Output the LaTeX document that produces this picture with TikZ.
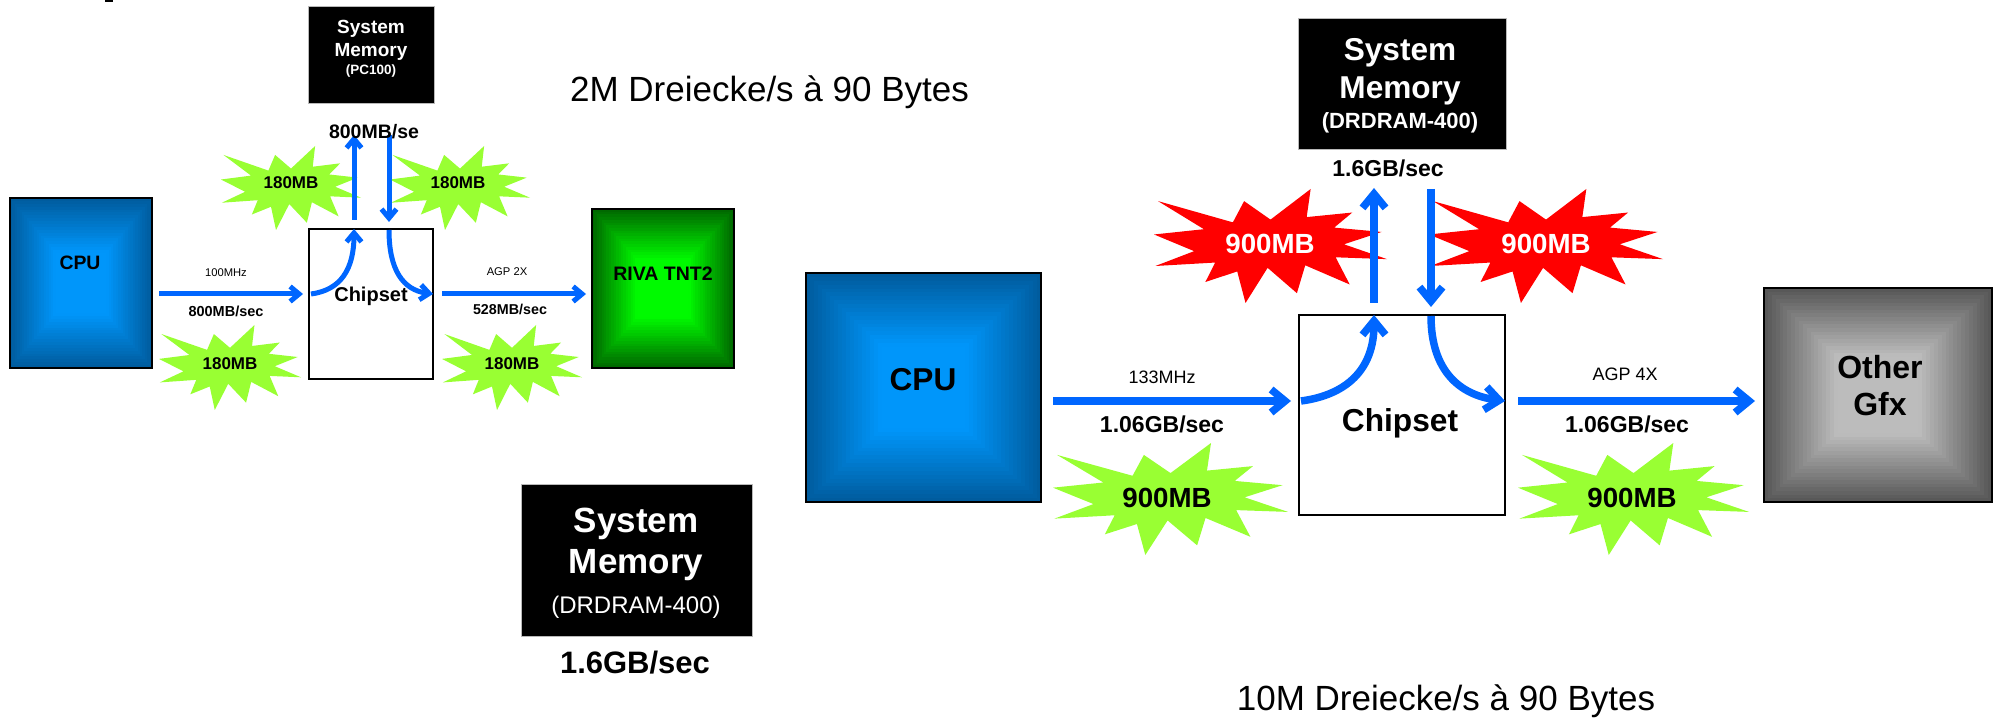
\documentclass[tikz,border=0pt]{standalone}
\usepackage{fontspec}
\setmainfont{Liberation Sans}
\usetikzlibrary{arrows.meta,calc}

\definecolor{arrowblue}{RGB}{0,102,255}
\definecolor{burstgreen}{RGB}{153,255,51}
\definecolor{burstred}{RGB}{255,0,0}
\definecolor{cpuedge}{RGB}{0,92,158}
\definecolor{cpucenter}{RGB}{0,150,250}
\definecolor{gpuedge}{RGB}{0,105,0}
\definecolor{gpucenter}{RGB}{0,250,0}
\definecolor{gfxedge}{RGB}{88,88,88}
\definecolor{gfxcenter}{RGB}{188,188,188}

\newcommand{\setfs}[1]{\fontsize{#1}{#1}\selectfont}

% PowerPoint "Explosion 1" (irregularSeal1), coordinates scaled to 0..216
\newcommand{\burstshape}[5]{%
  \begin{scope}[shift={(#1,#2)}, xscale={(#3-#1)/216}, yscale={(#4-#2)/216}]
    \fill[#5] (108,58) -- (145.22,0) -- (141.55,53.25) -- (183.80,44.57) -- (167.02,73.15)
      -- (210.97,81.37) -- (176.07,104.75) -- (216,132.90) -- (168.37,129.42) -- (181.45,180.95)
      -- (140.20,144.57) -- (132.47,197.37) -- (105.32,149.35) -- (84.85,216) -- (77.15,156.27)
      -- (47.62,176.17) -- (56.67,139.37) -- (1.35,145.87) -- (37.22,117.75) -- (0,86.15)
      -- (46.27,76.17) -- (3.70,22.95) -- (73.12,63.20) -- (83.52,22.95) -- cycle;
  \end{scope}}

\tikzset{
  gradbox/.style 2 args={draw=black, line width=2pt, outer sep=0pt, inner sep=0pt, fill=#1,
    path picture={
      \foreach \k in {1,...,22}{
        \pgfmathsetmacro\gfrac{\k*0.034}
        \pgfmathtruncatemacro\gpct{min(100,\k*5.5)}
        \fill[#2!\gpct!#1]
          ($(path picture bounding box.south west)!\gfrac!(path picture bounding box.center)$)
          rectangle
          ($(path picture bounding box.north east)!\gfrac!(path picture bounding box.center)$);
      }}},
  chipbox/.style={draw=black, fill=white, line width=2pt, outer sep=0pt, inner sep=0pt},
  memblk/.style={fill=black, draw=gray!55, line width=1pt, outer sep=0pt, inner sep=0pt},
  lbl/.style={inner sep=0pt, anchor=base, text=black},
  wlbl/.style={inner sep=0pt, anchor=base, text=white},
  arrL/.style={draw=arrowblue, line width=5pt, -{Straight Barb[length=9pt,width=15pt]}},
  arrR/.style={draw=arrowblue, line width=7.5pt, -{Straight Barb[length=14pt,width=23pt]}}
}

\begin{document}
\begin{tikzpicture}[x=1pt,y=-1pt]
\useasboundingbox (0,0) rectangle (1995,719);
\fill (105,0) rectangle (113,2);

% ================= LEFT PANEL =================
\node[memblk, minimum width=126pt, minimum height=97pt] (memL) at (371,55.5) {};
\node[wlbl, font=\bfseries\setfs{19}] (memLa) at (371,34) {System};
\node[wlbl, font=\bfseries\setfs{19}] (memLb) at (371,57) {Memory};
\node[wlbl, font=\bfseries\setfs{13.5}] (memLc) at (371,75) {(PC100)};

\node[gradbox={cpuedge}{cpucenter}, minimum width=142pt, minimum height=170pt] (cpuL) at (81,283) {};
\node[chipbox, minimum width=124pt, minimum height=150pt] (chipL) at (371,304) {};
\node[gradbox={gpuedge}{gpucenter}, minimum width=142pt, minimum height=159pt] (rivaL) at (663,288.5) {};

\burstshape{221}{146}{361}{230}{burstgreen}
\burstshape{390}{146}{530}{230}{burstgreen}
\burstshape{159}{325}{301}{410}{burstgreen}
\burstshape{442}{325}{582}{410}{burstgreen}

\draw[arrL] ([shift={(7,11)}]cpuL.east) -- ([shift={(-6,-10)}]chipL.west);
\draw[arrL] ([shift={(2,-10)}]chipL.west) .. controls +(30,-4) and +(0,40) .. ([shift={(-17,0)}]chipL.north);
\draw[arrL] ([shift={(-17,-9)}]chipL.north) -- ([shift={(-17,31)}]memL.south);
\draw[arrL] ([shift={(18,31)}]memL.south) -- ([shift={(18,-7)}]chipL.north);
\draw[arrL] ([shift={(18,1)}]chipL.north) .. controls +(0,40) and +(-30,-4) .. ([shift={(0,-10)}]chipL.east);
\draw[arrL] ([shift={(9,-10)}]chipL.east) -- ([shift={(-6,5.5)}]rivaL.west);

\node[lbl, font=\bfseries\setfs{19.5}] (bwL) at (374,139) {800MB/se};
\node[lbl, font=\bfseries\setfs{19.4}] (cpuLt) at (80,270) {CPU};
\node[lbl, font=\bfseries\setfs{20}] (chipLt) at (371,302) {Chipset};
\node[lbl, font=\bfseries\setfs{19.5}] (rivaLt) at (663,281) {RIVA TNT2};
\node[lbl, font=\setfs{11.2}] (fsbL) at (226,277) {100MHz};
\node[lbl, font=\bfseries\setfs{14.5}] (fsbbwL) at (226,317) {800MB/sec};
\node[lbl, font=\setfs{11.2}] (agpL) at (507,276) {AGP 2X};
\node[lbl, font=\bfseries\setfs{14.3}] (agpbwL) at (510,315) {528MB/sec};
\node[lbl, font=\bfseries\setfs{17}] (b1) at (291,189) {180MB};
\node[lbl, font=\bfseries\setfs{17}] (b2) at (458,189) {180MB};
\node[lbl, font=\bfseries\setfs{17}] (b3) at (230,370) {180MB};
\node[lbl, font=\bfseries\setfs{17}] (b4) at (512,370) {180MB};

\node[lbl, font=\setfs{35}] (title1) at (769.5,102) {2M Dreiecke/s à 90 Bytes};

% big memory block
\node[memblk, minimum width=231pt, minimum height=152pt] (memD) at (636.5,560) {};
\node[wlbl, font=\bfseries\setfs{35}] (memDa) at (636,532) {System};
\node[wlbl, font=\bfseries\setfs{35}] (memDb) at (636,573) {Memory};
\node[wlbl, font=\setfs{24}] (memDc) at (636,613) {(DRDRAM-400)};
\node[lbl, font=\bfseries\setfs{31}] (memDbw) at (635,673) {1.6GB/sec};

% ================= RIGHT PANEL =================
\node[memblk, minimum width=208pt, minimum height=131pt] (memR) at (1402,84.5) {};
\node[wlbl, font=\bfseries\setfs{31.6}] (memRa) at (1400,61) {System};
\node[wlbl, font=\bfseries\setfs{31.6}] (memRb) at (1400,99) {Memory};
\node[wlbl, font=\bfseries\setfs{22}] (memRc) at (1400,129) {(DRDRAM-400)};

\node[gradbox={cpuedge}{cpucenter}, line width=2.5pt, minimum width=235pt, minimum height=229pt] (cpuR) at (923.5,387.5) {};
\node[chipbox, line width=2.5pt, minimum width=206pt, minimum height=200pt] (chipR) at (1402,415) {};
\node[gradbox={gfxedge}{gfxcenter}, line width=2.5pt, minimum width=228pt, minimum height=214pt] (gfxR) at (1878,395) {};

\burstshape{1154}{189}{1387}{303}{burstred}
\burstshape{1429}{189}{1663}{303}{burstred}
\burstshape{1053}{443}{1288}{555}{burstgreen}
\burstshape{1518}{443}{1749}{555}{burstgreen}

\draw[arrR] ([shift={(12,13.5)}]cpuR.east) -- ([shift={(-8,-14)}]chipR.west);
\draw[arrR] ([shift={(2,-14)}]chipR.west) .. controls +(45,-6) and +(0,55) .. ([shift={(-28,0)}]chipR.north);
\draw[arrR] ([shift={(-28,-12)}]chipR.north) -- ([shift={(-28,38)}]memR.south);
\draw[arrR] ([shift={(29,39)}]memR.south) -- ([shift={(29,-8)}]chipR.north);
\draw[arrR] ([shift={(29,1)}]chipR.north) .. controls +(0,55) and +(-45,-6) .. ([shift={(0,-14)}]chipR.east);
\draw[arrR] ([shift={(13,-14)}]chipR.east) -- ([shift={(-9,6)}]gfxR.west);

\node[lbl, font=\bfseries\setfs{23}] (bwR) at (1388,177) {1.6GB/sec};
\node[lbl, font=\bfseries\setfs{31.6}] (cpuRt) at (923,390) {CPU};
\node[lbl, font=\bfseries\setfs{31.7}] (chipRt) at (1400,431) {Chipset};
\node[lbl, font=\bfseries\setfs{32}] (gfxRa) at (1880,378) {Other};
\node[lbl, font=\bfseries\setfs{32}] (gfxRb) at (1880,415) {Gfx};
\node[lbl, font=\setfs{18}] (fsbR) at (1162,384) {133MHz};
\node[lbl, font=\bfseries\setfs{23}] (fsbbwR) at (1162,432) {1.06GB/sec};
\node[lbl, font=\setfs{18}] (agpR) at (1625,381) {AGP 4X};
\node[lbl, font=\bfseries\setfs{23}] (agpbwR) at (1627,432) {1.06GB/sec};
\node[wlbl, font=\bfseries\setfs{27.7}] (r1) at (1270,254) {900MB};
\node[wlbl, font=\bfseries\setfs{27.7}] (r2) at (1546,254) {900MB};
\node[lbl, font=\bfseries\setfs{27.7}] (g1) at (1167,507) {900MB};
\node[lbl, font=\bfseries\setfs{27.7}] (g2) at (1632,507) {900MB};

\node[lbl, font=\setfs{35}] (title2) at (1446,710) {10M Dreiecke/s à 90 Bytes};
\end{tikzpicture}
\end{document}
